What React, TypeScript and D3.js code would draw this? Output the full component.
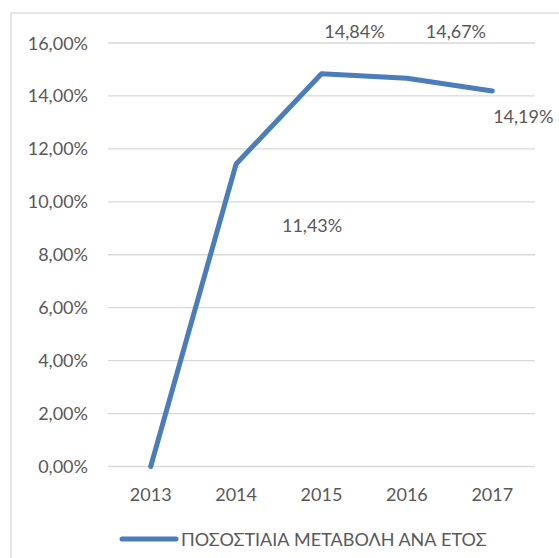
import React from "react";
import * as d3 from "d3";

const years = ["2013", "2014", "2015", "2016", "2017"];
const values = [0, 0.1143, 0.1484, 0.1467, 0.1419];
const yTicks = [0, 0.02, 0.04, 0.06, 0.08, 0.1, 0.12, 0.14, 0.16];
const seriesName = "ΠΟΣΟΣΤΙΑΙΑ ΜΕΤΑΒΟΛΗ ΑΝΑ ΕΤΟΣ";
// label offsets (style) relative to each point
const labelOffsets: [number, number][] = [
  [0, 0],
  [76, 68],
  [33, -36],
  [49, -40],
  [31, 32],
];

const W = 559;
const H = 558;
const FONT = "Lato, 'Noto Sans', sans-serif";
const TEXT = "#595959";
const GRID = "#d9d9d9";
const LINE = "#4a7dba";

const fmt = (v: number) => (v * 100).toFixed(2).replace(".", ",") + "%";

export default function App() {
  const x = d3.scaleBand<string>().domain(years).range([108, 535]);
  const y = d3.scaleLinear().domain([0, 0.16]).range([466.5, 43]);
  const cx = (d: string) => (x(d) as number) + x.bandwidth() / 2;
  const line = d3
    .line<number>()
    .x((_, i) => cx(years[i]))
    .y((d) => y(d));

  return (
    <svg
      width={W}
      height={H}
      style={{ position: "absolute", left: 0, top: 0, background: "#fff" }}
      fontFamily={FONT}
    >
      <rect x={11} y={13} width={W + 20} height={H + 20} fill="#fff" stroke={GRID} strokeWidth={1.3} />
      {yTicks.map((t) => (
        <g key={t}>
          <line x1={108} x2={535} y1={y(t)} y2={y(t)} stroke={GRID} strokeWidth={1.3} />
          <text x={88} y={y(t) + 6.5} textAnchor="end" fontSize={18} fill={TEXT}>
            {fmt(t)}
          </text>
        </g>
      ))}
      {years.map((yr) => (
        <text key={yr} x={cx(yr)} y={501} textAnchor="middle" fontSize={18} fill={TEXT}>
          {yr}
        </text>
      ))}
      <path
        d={line(values) as string}
        fill="none"
        stroke={LINE}
        strokeWidth={5}
        strokeLinejoin="round"
        strokeLinecap="round"
      />
      {values.map((v, i) =>
        i === 0 ? null : (
          <text
            key={i}
            x={cx(years[i]) + labelOffsets[i][0]}
            y={y(v) + labelOffsets[i][1]}
            textAnchor="middle"
            fontSize={18}
            fill={TEXT}
          >
            {fmt(v)}
          </text>
        )
      )}
      <line x1={122} x2={176} y1={539} y2={539} stroke={LINE} strokeWidth={5} strokeLinecap="round" />
      <text x={181} y={546} fontSize={18} fill={TEXT}>
        {seriesName}
      </text>
    </svg>
  );
}
